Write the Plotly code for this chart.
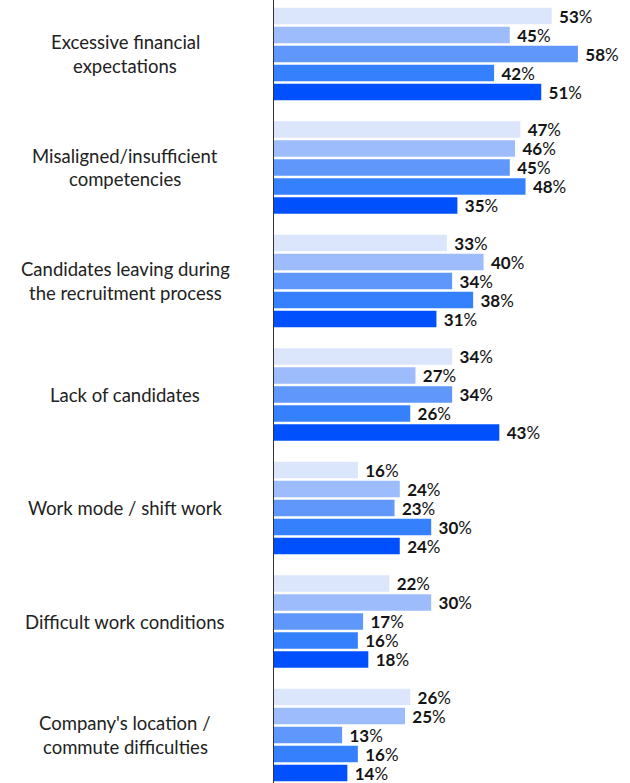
import plotly.graph_objects as go

# Recruitment difficulties, share of respondents (%) per group
categories = [
    "Excessive financial<br>expectations",
    "Misaligned/insufficient<br>competencies",
    "Candidates leaving during<br>the recruitment process",
    "Lack of candidates",
    "Work mode / shift work",
    "Difficult work conditions",
    "Company's location /<br>commute difficulties",
]
series_names = ["Group 1", "Group 2", "Group 3", "Group 4", "Group 5"]
group_1 = [53, 47, 33, 34, 16, 22, 26]
group_2 = [45, 46, 40, 27, 24, 30, 25]
group_3 = [58, 45, 34, 34, 23, 17, 13]
group_4 = [42, 48, 38, 26, 30, 16, 16]
group_5 = [51, 35, 31, 43, 24, 18, 14]
series_values = [group_1, group_2, group_3, group_4, group_5]
colors = ["#dbe5fc", "#9dbcfc", "#6097fb", "#3580fd", "#0050fe"]

W, H = 630, 783
LEFT = 274
x_max = (W - LEFT) / 5.24  # percentage units across the plot width

idx = list(range(len(categories)))

fig = go.Figure()
for name, vals, col in zip(series_names, series_values, colors):
    fig.add_trace(go.Bar(
        y=idx, x=vals, name=name, orientation="h",
        marker=dict(color=col, line=dict(width=0)),
        texttemplate=" <b>%{x}</b>%",
        textposition="outside",
        constraintext="none",
        textfont=dict(family="Lato", size=17, color="#141414"),
        outsidetextfont=dict(family="Lato", size=17, color="#141414"),
        cliponaxis=False,
        hoverinfo="skip",
    ))

# Category labels, centred in the left margin, one annotation per line
line_gap = 23.5
for i, lab in enumerate(categories):
    lines = lab.split("<br>")
    n = len(lines)
    for k, ln in enumerate(lines):
        shift = ((n - 1) / 2 - k) * line_gap
        fig.add_annotation(
            x=(125 - LEFT) / (W - LEFT), xref="paper", xanchor="center",
            y=i, yref="y", yanchor="middle", yshift=shift,
            text=ln, showarrow=False,
            font=dict(family="Lato", size=18.5, color="#222222"),
        )

# Category centres: first at 54 px, spacing 113.5 px
y_top = -54 / 113.5
y_bot = (H - 54) / 113.5
fig.update_layout(
    width=W, height=H,
    margin=dict(l=LEFT, r=0, t=0, b=0),
    paper_bgcolor="white", plot_bgcolor="white",
    barmode="group", bargap=0.163, bargroupgap=0.14,
    showlegend=False,
    uniformtext=dict(mode=False),
    xaxis=dict(range=[0, x_max], visible=False, fixedrange=True),
    yaxis=dict(range=[y_bot, y_top], showticklabels=False, showgrid=False,
               zeroline=False, showline=True, linecolor="#333333",
               linewidth=1, ticks="", fixedrange=True),
    font=dict(family="Lato"),
)

fig.write_html("out.html")
